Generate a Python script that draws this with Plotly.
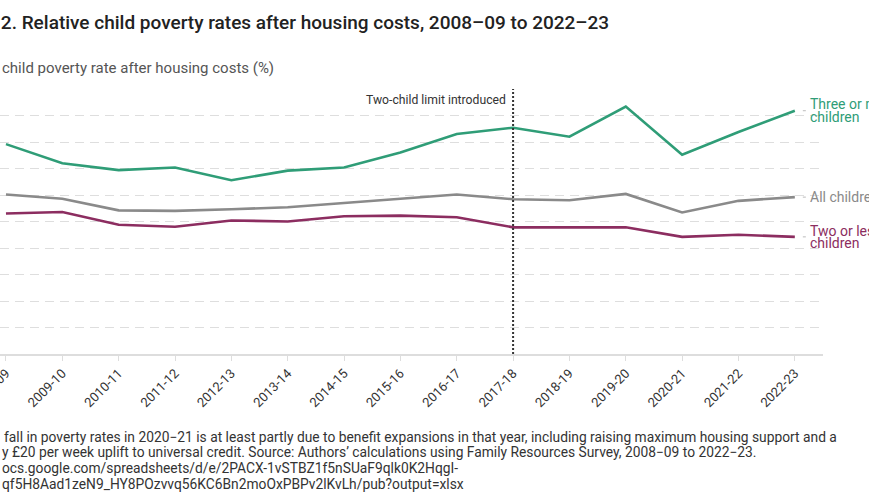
import plotly.graph_objects as go

years = ["2008-09", "2009-10", "2010-11", "2011-12", "2012-13", "2013-14", "2014-15",
         "2015-16", "2016-17", "2017-18", "2018-19", "2019-20", "2020-21", "2021-22", "2022-23"]
three_plus = [39.6, 36.0, 34.7, 35.2, 32.8, 34.6, 35.2, 38.0, 41.5, 42.7, 41.0, 46.7, 37.6, 41.9, 45.9]
all_children = [30.1, 29.3, 27.1, 27.0, 27.3, 27.7, 28.5, 29.3, 30.1, 29.2, 29.0, 30.2, 26.7, 28.9, 29.6]
two_or_less = [26.5, 26.8, 24.4, 24.0, 25.2, 25.0, 26.0, 26.1, 25.8, 23.9, 23.9, 23.9, 22.1, 22.5, 22.1]

series = [
    (["Three or more", "children"], three_plus, "#2f9d77"),
    (["All children"], all_children, "#8a8a8a"),
    (["Two or less", "children"], two_or_less, "#8c2d60"),
]

W, H = 869, 504
ML, MR, MT, MB = 0, 46, 89, 150
plot_h = H - MT - MB


def py(pix):
    """pixel y (from top) -> paper y"""
    return (H - MB - pix) / plot_h


FONT = "Roboto"
fig = go.Figure()
for names, vals, col in series:
    fig.add_trace(go.Scatter(x=years, y=vals, mode="lines", line=dict(color=col, width=2.6),
                             showlegend=False, hoverinfo="skip"))
    n = len(names)
    for k, t in enumerate(names):
        off = (-(n - 1) / 2 + k) * 12.5
        fig.add_annotation(x=years[-1], y=vals[-1], xref="x", yref="y", text=t, showarrow=False,
                           xanchor="left", yanchor="middle", xshift=13, yshift=-off,
                           font=dict(family=FONT, size=14, color=col))
    fig.add_shape(type="line", xref="x", yref="y", xsizemode="pixel", xanchor=years[-1],
                  x0=8, x1=11, y0=vals[-1], y1=vals[-1], line=dict(color="#bbbbbb", width=1))

# two-child limit marker
fig.add_shape(type="line", xref="x", yref="paper", x0="2017-18", x1="2017-18", y0=0, y1=1,
              line=dict(color="#333333", width=2, dash="2px,2px"))
fig.add_annotation(x="2017-18", y=py(100), xref="x", yref="paper", text="Two-child limit introduced",
                   showarrow=False, xanchor="right", yanchor="middle", xshift=-5,
                   font=dict(family=FONT, size=12.2, color="#333333"))

# subtitle
fig.add_annotation(x=0, y=py(68), xref="paper", yref="paper", text="child poverty rate after housing costs (%)",
                   showarrow=False, xanchor="left", yanchor="middle",
                   font=dict(family=FONT, size=15, color="#555555"))

notes = [
    (2, 437, "fall in poverty rates in 2020\u221221 is at least partly due to benefit expansions in that year, including raising maximum housing support and a"),
    (0, 452, "y \u00a320 per week uplift to universal credit. Source: Authors\u2019 calculations using Family Resources Survey, 2008\u221209 to 2022\u221223."),
    (0, 468, "ocs.google.com/spreadsheets/d/e/2PACX-1vSTBZ1f5nSUaF9qlk0K2HqgI-"),
    (0, 484, "qf5H8Aad1zeN9_HY8POzvvq56KC6Bn2moOxPBPv2lKvLh/pub?output=xlsx"),
]
for xp, yp, t in notes:
    fig.add_annotation(x=xp / (W - ML - MR), y=py(yp), xref="paper", yref="paper", text=t, showarrow=False,
                       xanchor="left", yanchor="middle", font=dict(family=FONT, size=13.8, color="#333333"))

fig.update_layout(
    width=W, height=H,
    margin=dict(l=ML, r=MR, t=MT, b=MB),
    paper_bgcolor="white", plot_bgcolor="white",
    title=dict(text="2. Relative child poverty rates after housing costs, 2008\u201309 to 2022\u201323",
               x=0.001, xref="container", xanchor="left", y=1 - 22 / H, yanchor="middle",
               font=dict(family=FONT, size=19, color="#222222", weight=500)),
    xaxis=dict(type="category", range=[-0.106, 14.5], showgrid=False, showline=True, automargin=False,
               linecolor="#dddddd", linewidth=1.5, ticks="outside", ticklen=5, tickcolor="#dddddd",
               tickangle=-45, tickfont=dict(family=FONT, size=13, color="#333333")),
    yaxis=dict(range=[0, 50], dtick=5, showticklabels=False, showgrid=True, gridcolor="#dedede",
               gridwidth=1, griddash="9px,6px", zeroline=False, automargin=False),
)

fig.write_html("out.html")
